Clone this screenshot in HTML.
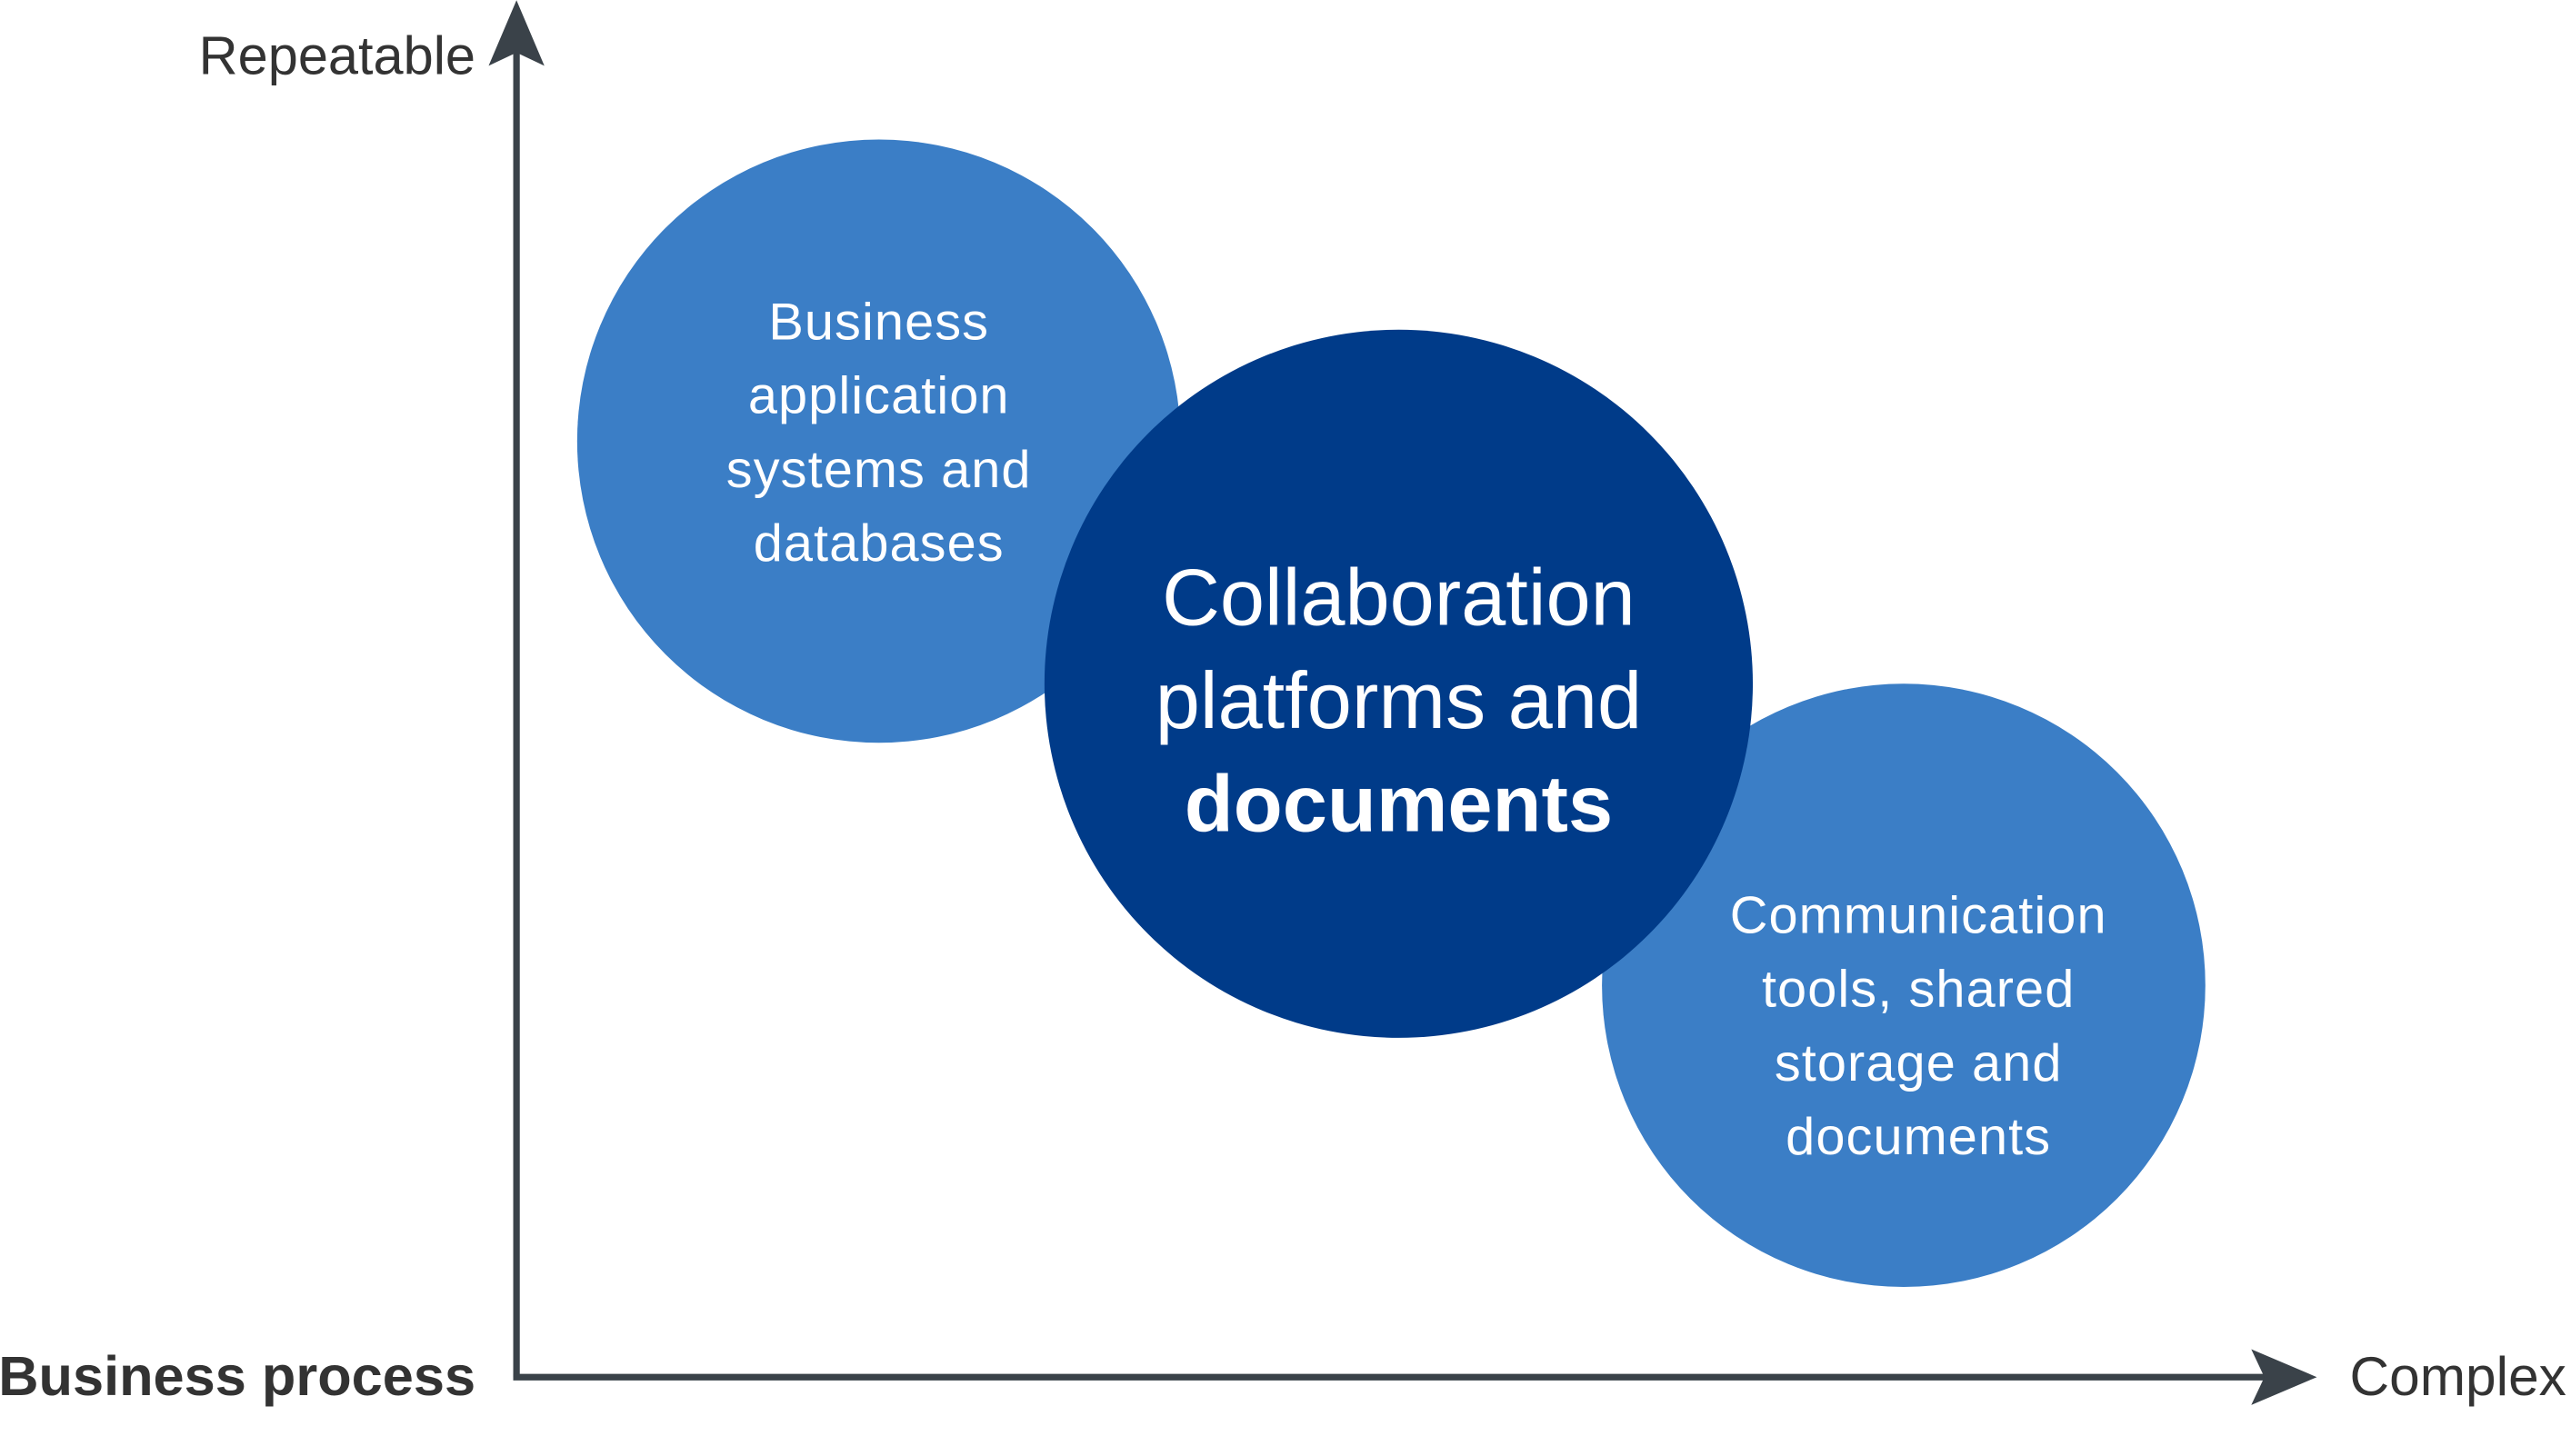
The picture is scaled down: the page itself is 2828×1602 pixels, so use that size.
<!DOCTYPE html>
<html><head><meta charset="utf-8"><style>
html,body{margin:0;padding:0;background:#fff;}
svg{display:block;}
text{font-family:"Liberation Sans",sans-serif;}
</style></head><body>
<svg width="2828" height="1602" viewBox="0 0 1568 888" xmlns="http://www.w3.org/2000/svg">
<rect width="1568" height="888" fill="#fff"/>
<circle cx="536" cy="269" r="184" fill="#3b7ec6"/>
<circle cx="1161" cy="601" r="184" fill="#3b7ec6"/>
<circle cx="853" cy="417" r="216" fill="#003b89"/>
<line x1="315" y1="30" x2="315" y2="840" stroke="#3a4249" stroke-width="4"/>
<line x1="313" y1="840" x2="1390" y2="840" stroke="#3a4249" stroke-width="4"/>
<polygon points="315,0 332,40 315,32 298,40" fill="#3a4249"/>
<polygon points="1413,840 1373,857 1381,840 1373,823" fill="#3a4249"/>
<text x="290" y="45" font-size="33" fill="#333" text-anchor="end">Repeatable</text>
<text x="290" y="851" font-size="34" font-weight="bold" fill="#333" text-anchor="end">Business process</text>
<text x="1433" y="851" font-size="33.5" fill="#333">Complex</text>
<g fill="#fff" font-size="32" text-anchor="middle" letter-spacing="0.6">
<text x="536" y="207">Business</text>
<text x="536" y="252">application</text>
<text x="536" y="297">systems and</text>
<text x="536" y="342">databases</text>
<text x="1170" y="569">Communication</text>
<text x="1170" y="614">tools, shared</text>
<text x="1170" y="659">storage and</text>
<text x="1170" y="704">documents</text>
</g>
<g fill="#fff" font-size="49" text-anchor="middle">
<text x="853" y="381">Collaboration</text>
<text x="853" y="444">platforms and</text>
<text x="853" y="507" font-weight="bold">documents</text>
</g>
</svg>
</body></html>
